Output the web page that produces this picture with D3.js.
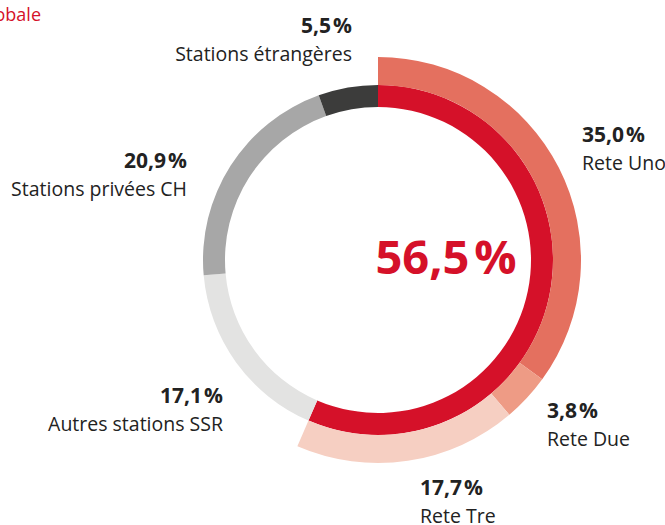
<!DOCTYPE html>
<html>
<head>
<meta charset="utf-8">
<script src="https://cdn.jsdelivr.net/npm/d3@7"></script>
<style>
  body { margin: 0; background: #fff; }
  text { font-family: "Open Sans", sans-serif; fill: #222; }
</style>
</head>
<body>
<div id="chart"></div>
<script>
(function () {

  // outer ring: SSR italian networks
  const reteLabels = ["Rete Uno", "Rete Due", "Rete Tre"]
  const reteValues = [35.0, 3.8, 17.7]
  const reteColors = ["#e4705f", "#ee9b85", "#f6cfc2"]

  // inner ring: remaining shares
  const otherLabels = ["Autres stations SSR", "Stations privées CH", "Stations étrangères"]
  const otherValues = [17.1, 20.9, 5.5]
  const otherColors = ["#e3e3e2", "#a7a7a7", "#3c3c3b"]

  const totalLabel = 56.5
  const title = "globale"

  const width = 665
  const height = 525
  const cx = 378
  const cy = 260

  const svg = d3.select("#chart").append("svg")
      .attr("width", width)
      .attr("height", height)

  const locale = d3.formatLocale({ decimal: ",", thousands: "\u202f", grouping: [3], currency: ["", ""] })
  const fmt = v => locale.format(".1f")(v) + "\u200a%"

  const angle = d3.scaleLinear()
    .domain([0, 100])
    .range([0, 2 * Math.PI])

  const g = svg.append("g")
      .attr("transform", "translate(" + cx + "," + cy + ")")

  const innerArc = d3.arc().innerRadius(153).outerRadius(175)
  const outerArc = d3.arc().innerRadius(175).outerRadius(203)

  // inner ring: the red total then the others
  const innerPie = d3.pie().sort(null).value(d => d.value)
      .startAngle(0).endAngle(2 * Math.PI)
  const innerData = [{ value: totalLabel, color: "#d51129" }]
    .concat(otherValues.map((v, i) => ({ value: v, color: otherColors[i] })))

  g.selectAll(".inner")
    .data(innerPie(innerData))
    .join("path")
    .attr("class", "inner")
    .attr("d", innerArc)
    .attr("fill", d => d.data.color)

  const outerPie = d3.pie().sort(null).value(d => d)
      .startAngle(0).endAngle(angle(d3.sum(reteValues)))

  g.selectAll(".outer")
    .data(outerPie(reteValues))
    .join("path")
    .attr("class", "outer")
    .attr("d", outerArc)
    .attr("fill", (d, i) => reteColors[i])

  // centre figure
  svg.append("text")
    .attr("x", 446)
    .attr("y", 274)
    .attr("text-anchor", "middle")
    .style("font-size", "47px")
    .style("font-weight", "bold")
    .style("fill", "#d51129")
    .text(fmt(totalLabel))

  svg.append("text")
    .attr("x", 41)
    .attr("y", 21)
    .attr("text-anchor", "end")
    .style("font-size", "18px")
    .style("fill", "#d51129")
    .text(title)

  // label placement (x, value baseline, anchor)
  const labelPos = {
    "Rete Uno": [582, 142, "start"],
    "Rete Due": [547, 418, "start"],
    "Rete Tre": [420, 495, "start"],
    "Autres stations SSR": [223, 403, "end"],
    "Stations privées CH": [187, 168, "end"],
    "Stations étrangères": [352, 33, "end"]
  }

  const labels = reteLabels.map((l, i) => ({ name: l, value: reteValues[i] }))
    .concat(otherLabels.map((l, i) => ({ name: l, value: otherValues[i] })))

  const lab = svg.selectAll(".label")
    .data(labels)
    .join("g")
    .attr("class", "label")
    .attr("transform", d => "translate(" + labelPos[d.name][0] + "," + labelPos[d.name][1] + ")")

  lab.append("text")
    .attr("text-anchor", d => labelPos[d.name][2])
    .style("font-size", "21px")
    .style("font-weight", "bold")
    .text(d => fmt(d.value))

  lab.append("text")
    .attr("y", 28)
    .attr("text-anchor", d => labelPos[d.name][2])
    .style("font-size", "19.5px")
    .text(d => d.name)

})();
</script>
</body>
</html>
